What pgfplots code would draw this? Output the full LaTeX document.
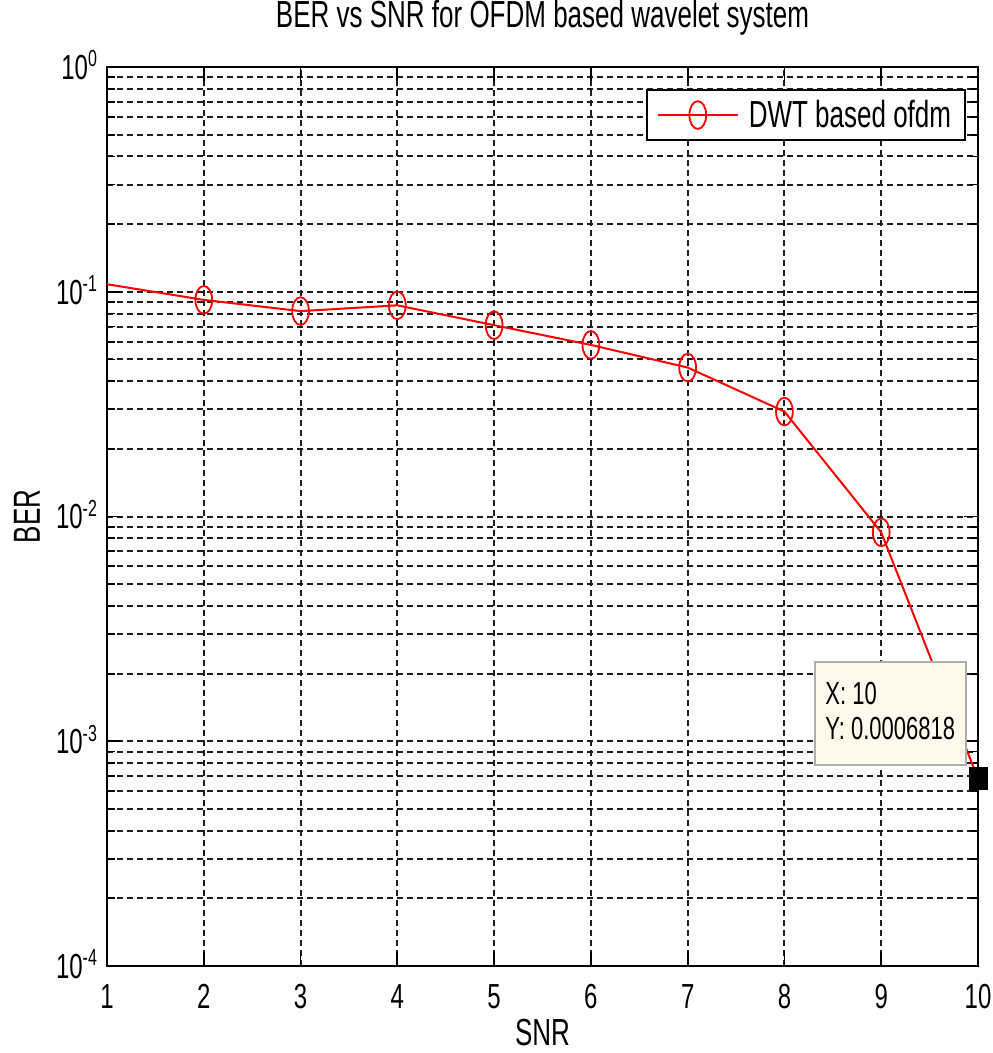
\documentclass[border=0pt]{standalone}
\usepackage{fontspec}
\setmainfont{Liberation Sans}
\usepackage{pgfplots}
\pgfplotsset{compat=1.18}
\usetikzlibrary{calc}

\definecolor{tipfill}{RGB}{255,250,236}
\definecolor{tipedge}{RGB}{175,175,175}
\definecolor{gridc}{RGB}{30,30,30}
% MATLAB export is squeezed sideways, so text is stretched vertically
\newcommand{\tx}[1]{\scalebox{1}[1.45]{#1}}

\begin{document}
\begin{tikzpicture}
\begin{axis}[
    scale only axis,
    width=435.5pt, height=449.5pt,
    xmin=1, xmax=10,
    ymode=log, log basis y=10,
    ymin=1e-4, ymax=1,
    xtick={1,...,10},
    xticklabels={\tx{1},\tx{2},\tx{3},\tx{4},\tx{5},\tx{6},\tx{7},\tx{8},\tx{9},\tx{10}},
    ytick={1e-4,1e-3,1e-2,1e-1,1},
    minor ytick={2e-4,3e-4,4e-4,5e-4,6e-4,7e-4,8e-4,9e-4,
                 2e-3,3e-3,4e-3,5e-3,6e-3,7e-3,8e-3,9e-3,
                 2e-2,3e-2,4e-2,5e-2,6e-2,7e-2,8e-2,9e-2,
                 0.2,0.3,0.4,0.5,0.6,0.7,0.8,0.9},
    yticklabels={\tx{10\textsuperscript{-4}},\tx{10\textsuperscript{-3}},\tx{10\textsuperscript{-2}},\tx{10\textsuperscript{-1}},\tx{10\textsuperscript{0}}},
    tick label style={font=\fontsize{12}{14}\selectfont},
    xticklabel style={anchor=north, yshift=-5.7pt},
    yticklabel style={anchor=base east, xshift=-1pt, yshift=-6.2pt},
    tick align=inside,
    xtick pos=both, ytick pos=both,
    major tick length=7pt, minor tick length=4pt,
    every tick/.style={black, line width=0.9pt},
    grid=both,
    major grid style={gridc, line width=1pt, dash pattern=on 3pt off 2pt},
    minor grid style={gridc, line width=1pt, dash pattern=on 3pt off 2pt},
    axis line style={black, line width=1.1pt},
    title={\tx{BER vs SNR for OFDM based wavelet system}},
    title style={font=\fontsize{13}{15}\selectfont, at={([yshift=18.5pt]axis description cs:0.5,1)}, anchor=center},
    xlabel={\tx{SNR}},
    ylabel={\tx{BER}},
    label style={font=\fontsize{13}{15}\selectfont},
    xlabel style={at={([yshift=-33.5pt]axis description cs:0.5,0)}, anchor=center},
    ylabel style={at={([xshift=-40pt]axis description cs:0,0.5)}, anchor=center},
    legend style={at={([xshift=-6pt,yshift=-11pt]axis description cs:1,1)}, anchor=north east,
        draw=black, line width=0.9pt, fill=white, inner xsep=5pt, inner ysep=3pt,
        font=\fontsize{13}{15}\selectfont},
    legend image code/.code={
        \draw[#1, mark=none] (0pt,0pt) -- (40pt,0pt);
        \draw[#1, mark indices={1}] plot coordinates {(20pt,0pt)};
    },
    clip=false,
]
\addplot[red, line width=1pt, mark=o, mark size=4.2pt, mark indices={2,...,9},
    mark options={solid, yscale=1.65, line width=0.9pt}] coordinates {
    (1,0.108) (2,0.092) (3,0.082) (4,0.087) (5,0.071)
    (6,0.058) (7,0.046) (8,0.0293) (9,0.0085) (10,0.0006818)
};
\addlegendentry{\hspace{3pt}\tx{DWT based ofdm}}

% data tip
\draw[tipedge, fill=tipfill, line width=0.8pt] (axis cs:8.316,0.002254) rectangle (axis cs:9.876,0.000784);
\node[anchor=base west, inner sep=0pt, font=\fontsize{11}{13}\selectfont]
    at ([xshift=5pt,yshift=-21.5pt]axis cs:8.316,0.002254) {\tx{X: 10}};
\node[anchor=base west, inner sep=0pt, font=\fontsize{11}{13}\selectfont]
    at ([xshift=5pt,yshift=-39pt]axis cs:8.316,0.002254) {\tx{Y: 0.0006818}};
\addplot[only marks, mark=square*, mark size=4.5pt, mark options={yscale=1.22}, black, forget plot]
    coordinates {(10,0.0006818)};
\end{axis}
\pgfresetboundingbox
\path[use as bounding box] ($(current axis.south west)+(-53.5pt,-43.5pt)$) rectangle ($(current axis.north east)+(7pt,33.5pt)$);
\end{tikzpicture}
\end{document}
